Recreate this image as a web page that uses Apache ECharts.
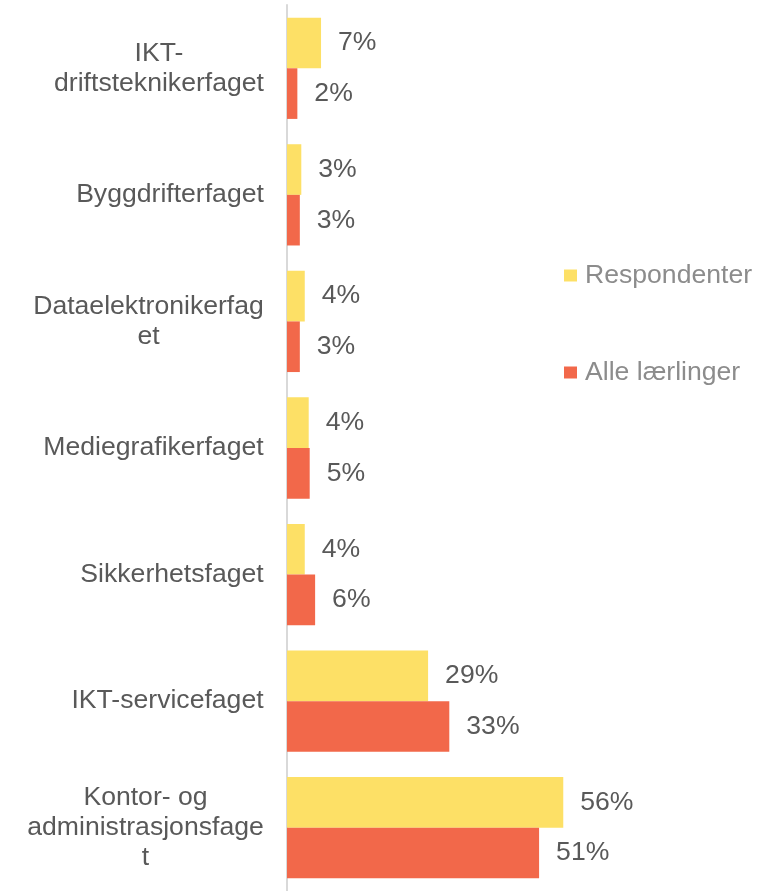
<!DOCTYPE html>
<html>
<head>
<meta charset="utf-8">
<script src="https://cdn.jsdelivr.net/npm/echarts@6/dist/echarts.min.js"></script>
<style>
  html, body { margin: 0; padding: 0; background: #fff; }
  #chart { width: 757px; height: 891px; }
</style>
</head>
<body>
<div id="chart"></div>
<script>
// fag, top to bottom (line breaks as in the original)
const categories = [
  "IKT-\ndriftsteknikerfaget",
  "Byggdrifterfaget",
  "Dataelektronikerfag\net",
  "Mediegrafikerfaget",
  "Sikkerhetsfaget",
  "IKT-servicefaget",
  "Kontor- og\nadministrasjonsfage\nt"
];
// percentages (labels show them rounded)
const respondenter = [6.9, 2.9, 3.6, 4.4, 3.6, 28.6, 56.0];
const alleLaerlinger = [2.1, 2.6, 2.6, 4.6, 5.7, 32.9, 51.1];

const FONT = "Liberation Sans, Arial, sans-serif";
const FS = 26.6;

// labels are right aligned as a block, lines centred inside it
const ctx = document.createElement("canvas").getContext("2d");
ctx.font = FS + "px " + FONT;
const rich = {};
categories.forEach((c, i) => {
  const w = Math.max(...c.split("\n").map((l) => ctx.measureText(l).width));
  rich["c" + i] = {
    width: Math.ceil(w),
    align: "center",
    color: "#595959",
    fontSize: FS,
    lineHeight: 30,
    fontFamily: FONT
  };
});

const chart = echarts.init(document.getElementById("chart"));

const labelStyle = {
  show: true,
  position: "right",
  distance: 17,
  formatter: (p) => Math.round(p.value) + "%",
  color: "#595959",
  fontSize: FS,
  fontFamily: FONT
};

chart.setOption({
  animation: false,
  legend: {
    orient: "vertical",
    left: 559,
    top: 257,
    itemGap: 70,
    itemWidth: 13,
    itemHeight: 12,
    icon: "rect",
    textStyle: { color: "#8c8c8c", fontSize: FS, fontFamily: FONT, padding: [0, 0, 0, 3] },
    data: ["Respondenter", "Alle lærlinger"]
  },
  grid: { left: 287, width: 296, top: 5, bottom: -4, containLabel: false },
  xAxis: {
    type: "value",
    min: 0,
    max: 60,
    show: false
  },
  yAxis: {
    type: "category",
    inverse: true,
    data: categories,
    axisLine: { show: true, lineStyle: { color: "#d9d9d9", width: 2 } },
    axisTick: { show: false },
    axisLabel: {
      align: "right",
      margin: 23,
      formatter: (v, i) => v.split("\n").map((l) => "{c" + i + "|" + l + "}").join("\n"),
      rich: rich
    }
  },
  series: [
    {
      name: "Respondenter",
      type: "bar",
      data: respondenter,
      barGap: "0%",
      barCategoryGap: "20%",
      itemStyle: { color: "#fde066" },
      label: labelStyle
    },
    {
      name: "Alle lærlinger",
      type: "bar",
      data: alleLaerlinger,
      itemStyle: { color: "#f2684a" },
      label: labelStyle
    }
  ]
});
</script>
</body>
</html>
